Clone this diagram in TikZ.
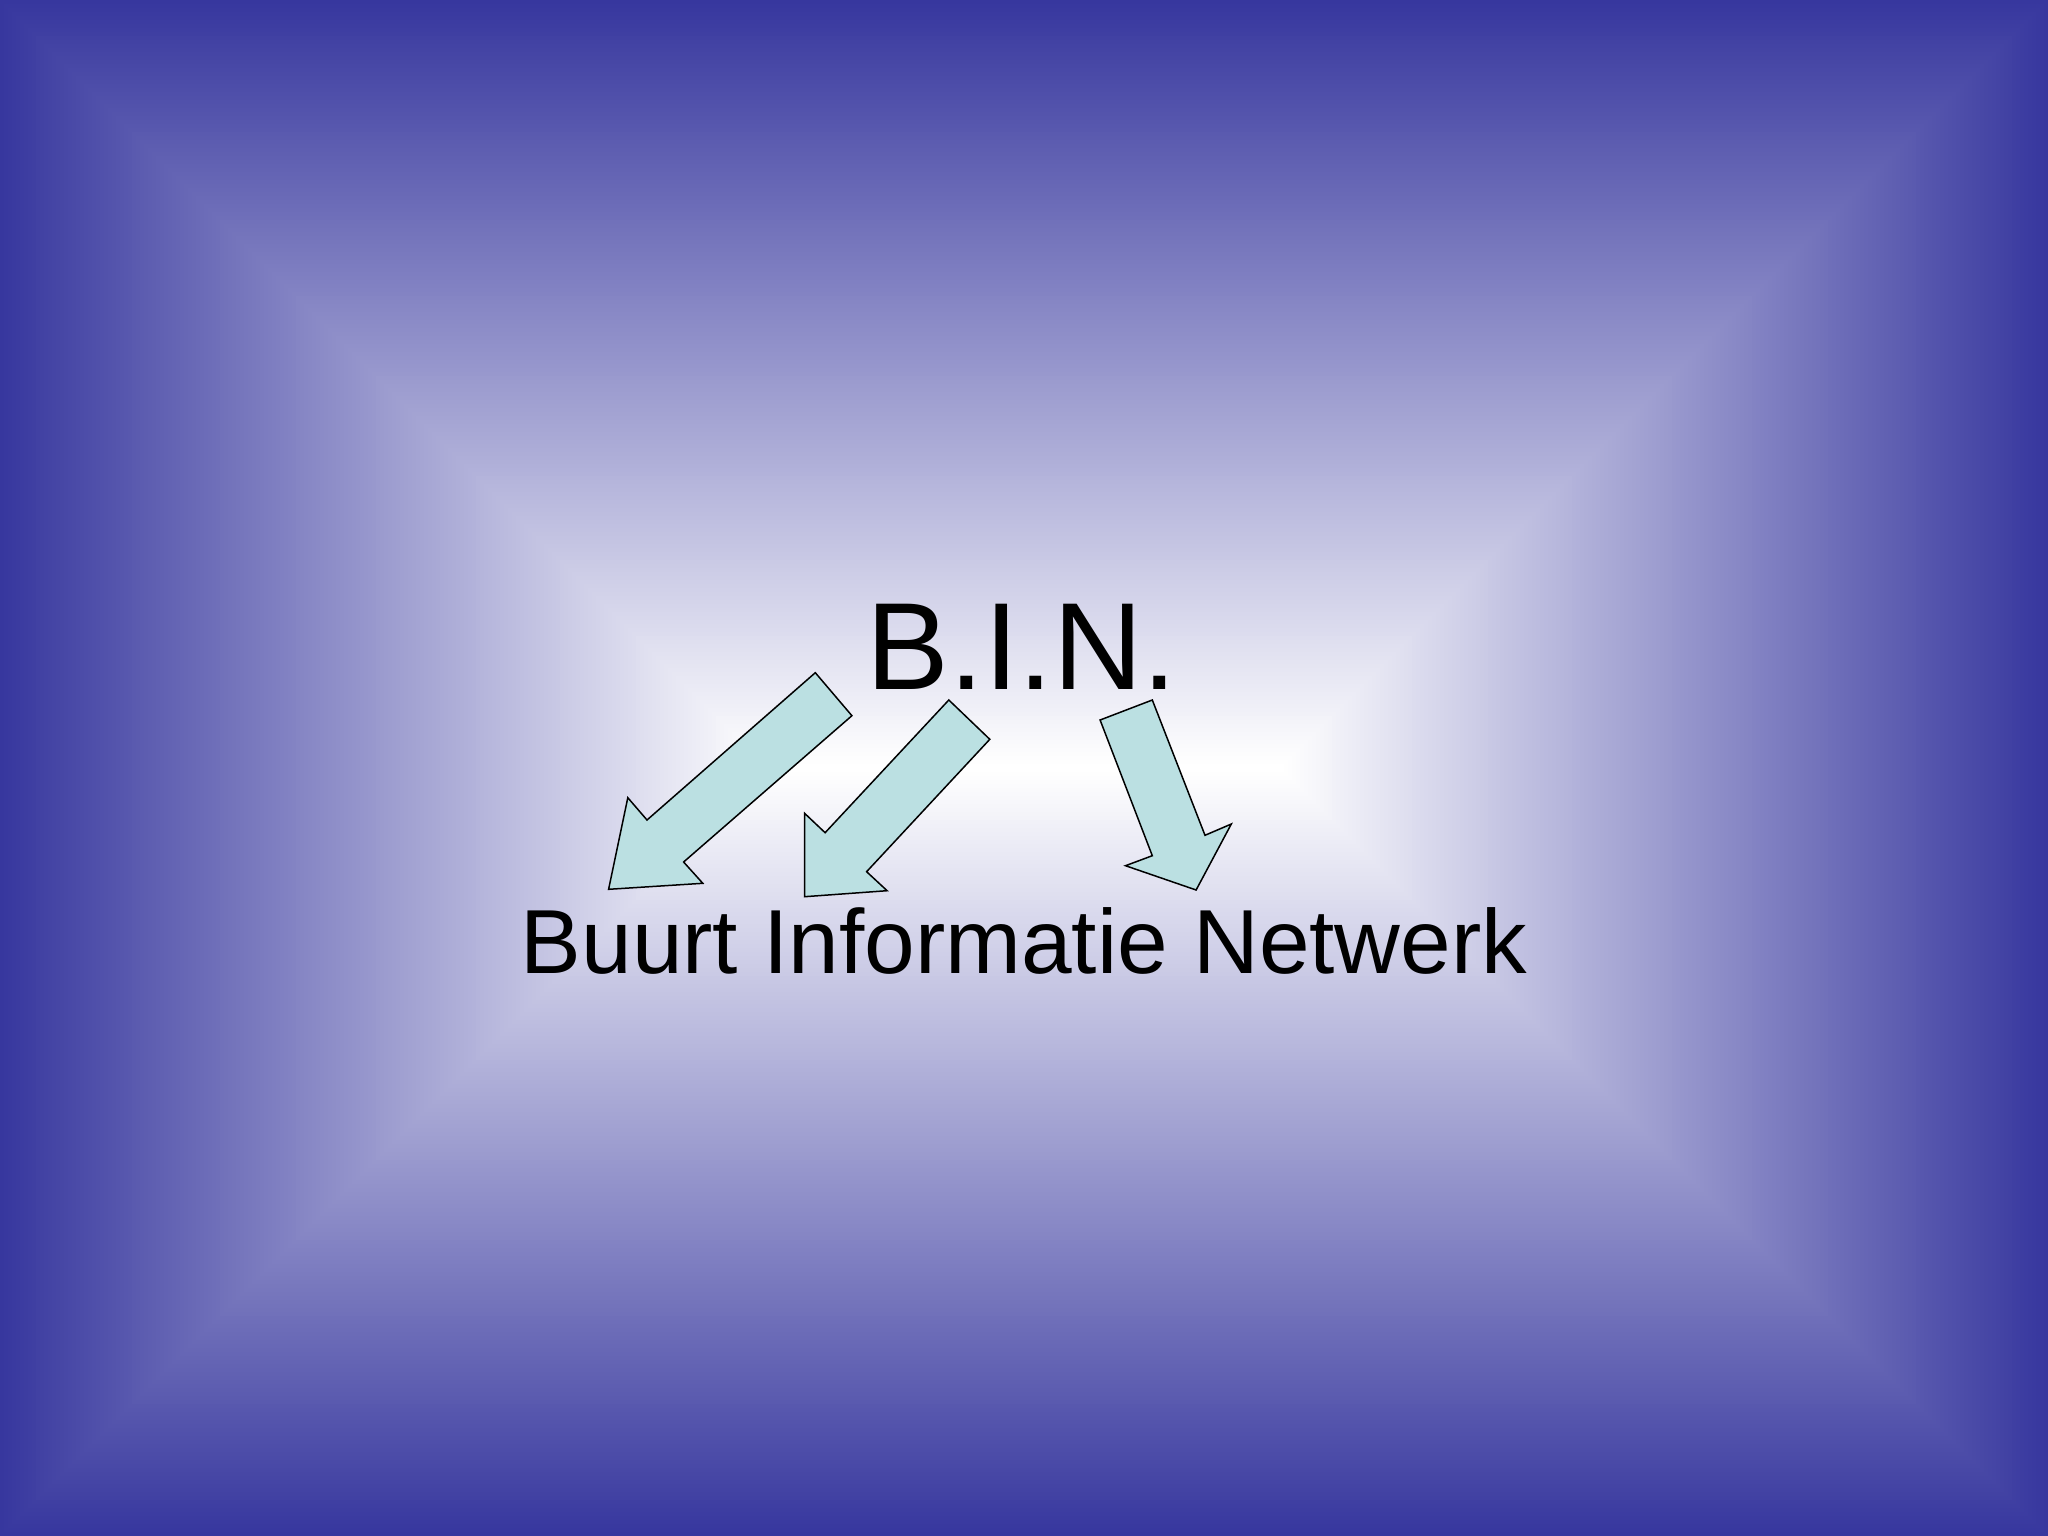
\documentclass[tikz,border=0pt]{standalone}
\usepackage{fontspec}
\setmainfont{Liberation Sans}
\definecolor{bgblue}{RGB}{55,55,158}
\definecolor{arrowfill}{RGB}{187,224,226}
\tikzset{
  blockarrow/.style={fill=arrowfill, draw=black, line width=1.5pt, line join=miter},
  bigtitle/.style={font=\fontsize{124}{144}\selectfont, text=black, inner sep=0pt, anchor=base},
  subtitle/.style={font=\fontsize{91}{110}\selectfont, text=black, inner sep=0pt, anchor=base}
}
\begin{document}
\begin{tikzpicture}[x=1pt,y=-1pt]
\useasboundingbox (0,0) rectangle (2048,1536);
% concentric rectangular gradient
\foreach \i in {0,...,191}{
  \pgfmathsetmacro{\d}{\i*4}
  \pgfmathsetmacro{\p}{\i*0.52356}
  \fill[white!\p!bgblue] (\d,\d) rectangle (2048-\d,1536-\d);
}
% arrows
\draw[blockarrow] (815.3,672.7) -- (851.9,715.7) -- (683.6,862) -- (702.8,883.3)
  -- (608.6,889.3) -- (627.8,797.7) -- (647,820) -- cycle;
\draw[blockarrow] (948.8,700) -- (989.8,739.3) -- (866.6,871.7) -- (887.1,890.7)
  -- (804.6,896.7) -- (804.6,813.3) -- (825.1,832.7) -- cycle;
\draw[blockarrow] (1100.1,720) -- (1152.3,700) -- (1205,835.3) -- (1231.3,824)
  -- (1196.1,890) -- (1125.5,865.7) -- (1152.3,855.7) -- cycle;
% texts
\node[bigtitle] (bin) at (1022,689.6) {B.I.N.};
\node[subtitle] (full) at (1024,973) {Buurt Informatie Netwerk};
\end{tikzpicture}
\end{document}
